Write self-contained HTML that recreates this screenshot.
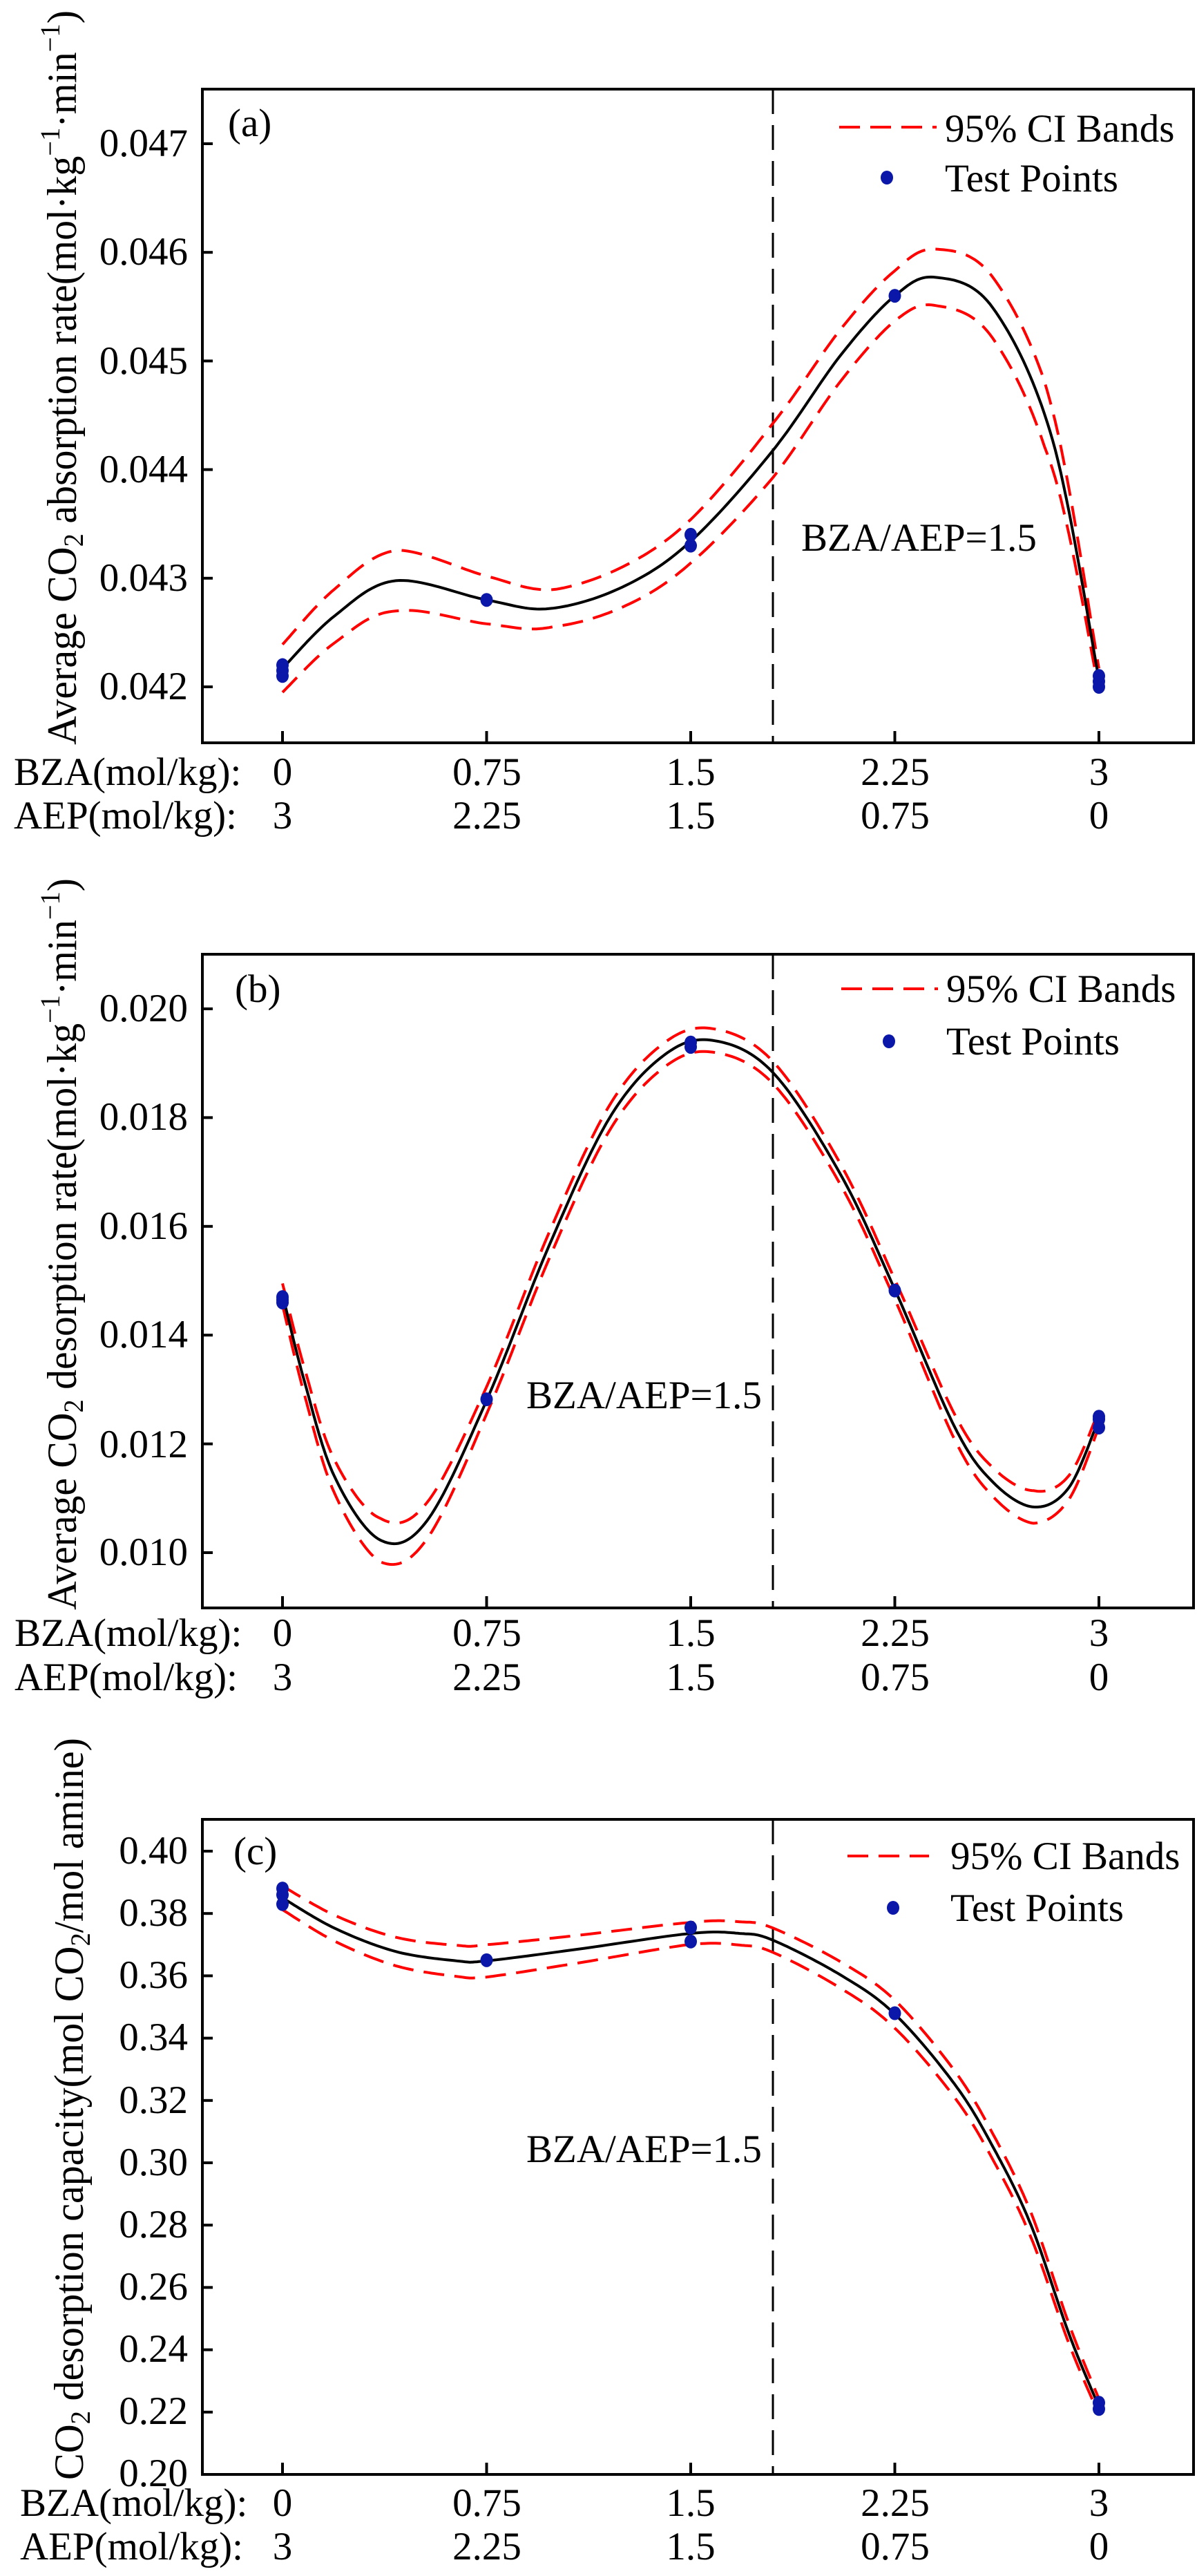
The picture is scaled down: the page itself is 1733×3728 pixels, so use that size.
<!DOCTYPE html>
<html><head><meta charset="utf-8"><style>
html,body{margin:0;padding:0;background:#fff}
svg{display:block}
</style></head><body>
<svg id="s" width="1733" height="3728" viewBox="0 0 1733 3728" xmlns="http://www.w3.org/2000/svg">
<rect width="1733" height="3728" fill="#fff"/>
<g font-size="57" font-family="'Liberation Serif', 'Times New Roman', Times, 'DejaVu Serif', serif" fill="#000">
<text x="272" y="226" text-anchor="end">0.047</text>
<text x="272" y="383" text-anchor="end">0.046</text>
<text x="272" y="541" text-anchor="end">0.045</text>
<text x="272" y="698" text-anchor="end">0.044</text>
<text x="272" y="855" text-anchor="end">0.043</text>
<text x="272" y="1012" text-anchor="end">0.042</text>
<text x="20" y="1136">BZA(mol/kg):</text>
<text x="20" y="1199">AEP(mol/kg):</text>
<g text-anchor="middle">
<text x="409" y="1136">0</text><text x="705" y="1136">0.75</text><text x="1000" y="1136">1.5</text><text x="1296" y="1136">2.25</text><text x="1591" y="1136">3</text>
<text x="409" y="1199">3</text><text x="705" y="1199">2.25</text><text x="1000" y="1199">1.5</text><text x="1296" y="1199">0.75</text><text x="1591" y="1199">0</text>
</g>
<text x="330" y="197">(a)</text>
<text x="1368" y="205">95% CI Bands</text>
<text x="1368" y="277">Test Points</text>
<text x="1160" y="797">BZA/AEP=1.5</text>
<text transform="translate(110,1078) rotate(-90)" textLength="1063" lengthAdjust="spacingAndGlyphs" font-size="60">Average CO<tspan font-size="40" dy="10">2</tspan><tspan dy="-10"> absorption rate(mol·kg</tspan><tspan font-size="40" dy="-24">−1</tspan><tspan dy="24">·min</tspan><tspan font-size="40" dy="-24">−1</tspan><tspan dy="24">)</tspan></text>

<text x="272" y="1478" text-anchor="end">0.020</text>
<text x="272" y="1635" text-anchor="end">0.018</text>
<text x="272" y="1793" text-anchor="end">0.016</text>
<text x="272" y="1950" text-anchor="end">0.014</text>
<text x="272" y="2109" text-anchor="end">0.012</text>
<text x="272" y="2265" text-anchor="end">0.010</text>
<text x="21" y="2382">BZA(mol/kg):</text>
<text x="21" y="2446">AEP(mol/kg):</text>
<g text-anchor="middle">
<text x="409" y="2382">0</text><text x="705" y="2382">0.75</text><text x="1000" y="2382">1.5</text><text x="1296" y="2382">2.25</text><text x="1591" y="2382">3</text>
<text x="409" y="2446">3</text><text x="705" y="2446">2.25</text><text x="1000" y="2446">1.5</text><text x="1296" y="2446">0.75</text><text x="1591" y="2446">0</text>
</g>
<text x="340" y="1450">(b)</text>
<text x="1370" y="1450">95% CI Bands</text>
<text x="1370" y="1526">Test Points</text>
<text x="762" y="2038">BZA/AEP=1.5</text>
<text transform="translate(110,2330) rotate(-90)" textLength="1059" lengthAdjust="spacingAndGlyphs" font-size="60">Average CO<tspan font-size="40" dy="10">2</tspan><tspan dy="-10"> desorption rate(mol·kg</tspan><tspan font-size="40" dy="-24">−1</tspan><tspan dy="24">·min</tspan><tspan font-size="40" dy="-24">−1</tspan><tspan dy="24">)</tspan></text>

<text x="272" y="2697" text-anchor="end">0.40</text>
<text x="272" y="2787" text-anchor="end">0.38</text>
<text x="272" y="2877" text-anchor="end">0.36</text>
<text x="272" y="2967" text-anchor="end">0.34</text>
<text x="272" y="3058" text-anchor="end">0.32</text>
<text x="272" y="3148" text-anchor="end">0.30</text>
<text x="272" y="3238" text-anchor="end">0.28</text>
<text x="272" y="3328" text-anchor="end">0.26</text>
<text x="272" y="3418" text-anchor="end">0.24</text>
<text x="272" y="3508" text-anchor="end">0.22</text>
<text x="272" y="3598" text-anchor="end">0.20</text>
<text x="29" y="3641">BZA(mol/kg):</text>
<text x="29" y="3704">AEP(mol/kg):</text>
<g text-anchor="middle">
<text x="409" y="3641">0</text><text x="705" y="3641">0.75</text><text x="1000" y="3641">1.5</text><text x="1296" y="3641">2.25</text><text x="1591" y="3641">3</text>
<text x="409" y="3704">3</text><text x="705" y="3704">2.25</text><text x="1000" y="3704">1.5</text><text x="1296" y="3704">0.75</text><text x="1591" y="3704">0</text>
</g>
<text x="338" y="2698">(c)</text>
<text x="1376" y="2705">95% CI Bands</text>
<text x="1376" y="2780">Test Points</text>
<text x="762" y="3129">BZA/AEP=1.5</text>
<text transform="translate(120,3589) rotate(-90)" textLength="1074" lengthAdjust="spacingAndGlyphs" font-size="60">CO<tspan font-size="40" dy="10">2</tspan><tspan dy="-10"> desorption capacity(mol CO</tspan><tspan font-size="40" dy="10">2</tspan><tspan dy="-10">/mol amine)</tspan></text>
</g>
<g id="plots"></g>
</svg>
<script>
(function(){
var NS="http://www.w3.org/2000/svg";
var g=document.getElementById("plots");
function el(t,a){var e=document.createElementNS(NS,t);for(var k in a)e.setAttribute(k,a[k]);g.appendChild(e);return e;}
function X(v){return 409+v*394;}
function interp(d,x){if(x<=d[0][0])return d[0][1];for(var i=1;i<d.length;i++){if(x<=d[i][0]){var t=(x-d[i-1][0])/(d[i][0]-d[i-1][0]);return d[i-1][1]+t*(d[i][1]-d[i-1][1]);}}return d[d.length-1][1];}
function spline(p){var out=[];for(var i=0;i<p.length-1;i++){var p0=p[i-1]||p[i],p1=p[i],p2=p[i+1],p3=p[i+2]||p[i+1];for(var j=0;j<20;j++){var t=j/20,t2=t*t,t3=t2*t;var f=function(a,b,c,d){return 0.5*((2*b)+(-a+c)*t+(2*a-5*b+4*c-d)*t2+(-a+3*b-3*c+d)*t3);};out.push([f(p0[0],p1[0],p2[0],p3[0]),f(p0[1],p1[1],p2[1],p3[1])]);}}out.push(p[p.length-1]);return out;}
function panel(P){
  el("rect",{x:293,y:P.top,width:1435,height:P.bot-P.top,fill:"none",stroke:"#000","stroke-width":4});
  P.yt.forEach(function(v){var y=P.Y(v);el("line",{x1:293,y1:y,x2:308,y2:y,stroke:"#000","stroke-width":4});});
  [0,0.75,1.5,2.25,3].forEach(function(v){el("line",{x1:X(v),y1:P.bot,x2:X(v),y2:P.bot-17,stroke:"#000","stroke-width":4});});
  el("line",{x1:1119,y1:P.top,x2:1119,y2:P.bot,stroke:"#000","stroke-width":3,"stroke-dasharray":"36 16"});
  var s=spline(P.mean);
  function path(sign){return s.map(function(q,i){return (i?"L":"M")+X(q[0]).toFixed(1)+","+P.Y(q[1]+sign*interp(P.delta,q[0])).toFixed(1);}).join("");}
  el("path",{d:path(1),fill:"none",stroke:"#ff0000","stroke-width":4,"stroke-dasharray":"30 15"});
  el("path",{d:path(-1),fill:"none",stroke:"#ff0000","stroke-width":4,"stroke-dasharray":"30 15"});
  el("path",{d:path(0),fill:"none",stroke:"#000","stroke-width":4});
  P.pts.forEach(function(q){el("ellipse",{cx:X(q[0]),cy:P.Y(q[1]),rx:9,ry:10,fill:"#0a17a8"});});
  el("line",{x1:P.lx1,y1:P.ly,x2:P.lx2,y2:P.ly,stroke:"#ff0000","stroke-width":4,"stroke-dasharray":"30 15"});
  el("ellipse",{cx:P.mx,cy:P.my,rx:9,ry:10,fill:"#0a17a8"});
}
panel({top:129,bot:1075,Y:function(v){return 994-(v-0.042)*157200;},yt:[0.042,0.043,0.044,0.045,0.046,0.047],
 mean:[[0,0.04217],[0.19,0.04265],[0.416,0.042977],[0.75,0.0428],[0.98,0.04272],[1.25,0.04292],[1.5,0.04334],[1.8,0.04417],[2.05,0.04505],[2.25,0.0456],[2.4,0.04577],[2.61,0.04549],[2.83,0.04427],[3,0.04207]],
 delta:[[0,0.00022],[0.42,0.00028],[0.75,0.00022],[1.0,0.00017],[1.5,0.0002],[1.8,0.00025],[2.25,0.00023],[2.4,0.00026],[2.8,0.0003],[3,0.0001]],
 pts:[[0,0.0421],[0,0.04215],[0,0.0422],[0.75,0.0428],[1.5,0.0433],[1.5,0.0434],[2.25,0.0456],[3,0.042],[3,0.04205],[3,0.0421]],
 lx1:1215,lx2:1356,ly:184,mx:1284,my:257});
panel({top:1381,bot:2327,Y:function(v){return 2247-(v-0.010)*78700;},yt:[0.010,0.012,0.014,0.016,0.018,0.020],
 mean:[[0,0.01475],[0.079,0.01318],[0.191,0.0114],[0.36,0.01023],[0.53,0.01058],[0.75,0.0128],[0.98,0.01565],[1.2,0.01798],[1.4,0.01914],[1.58,0.01942],[1.8,0.01884],[2.05,0.01696],[2.25,0.01484],[2.47,0.01231],[2.61,0.0113],[2.76,0.01084],[2.89,0.0112],[3,0.01246]],
 delta:[[0,0.0002],[0.36,0.0004],[0.75,0.00025],[1.5,0.00022],[2.25,0.00018],[2.76,0.0003],[3,0.00015]],
 pts:[[0,0.0146],[0,0.01465],[0,0.0147],[0.75,0.01282],[1.5,0.0193],[1.5,0.01938],[2.25,0.01482],[3,0.0123],[3,0.01245],[3,0.0125]],
 lx1:1218,lx2:1358,ly:1431,mx:1287,my:1507});
panel({top:2633,bot:3581,Y:function(v){return 3581-(v-0.20)*4510;},yt:[0.20,0.22,0.24,0.26,0.28,0.30,0.32,0.34,0.36,0.38,0.40],
 mean:[[0,0.385],[0.191,0.3753],[0.416,0.3678],[0.64,0.3648],[0.75,0.3648],[1.09,0.3686],[1.5,0.3736],[1.68,0.3736],[1.8,0.3715],[2.05,0.3603],[2.25,0.3477],[2.47,0.3252],[2.61,0.3052],[2.75,0.2801],[2.89,0.2451],[3,0.2217]],
 delta:[[0,0.0038],[0.75,0.0052],[1.5,0.0035],[2.25,0.0045],[2.75,0.004],[3,0.0025]],
 pts:[[0,0.383],[0,0.386],[0,0.388],[0.75,0.365],[1.5,0.371],[1.5,0.3755],[2.25,0.348],[3,0.221],[3,0.223]],
 lx1:1227,lx2:1345,ly:2686,mx:1293,my:2761});
})();
</script>
</body></html>
